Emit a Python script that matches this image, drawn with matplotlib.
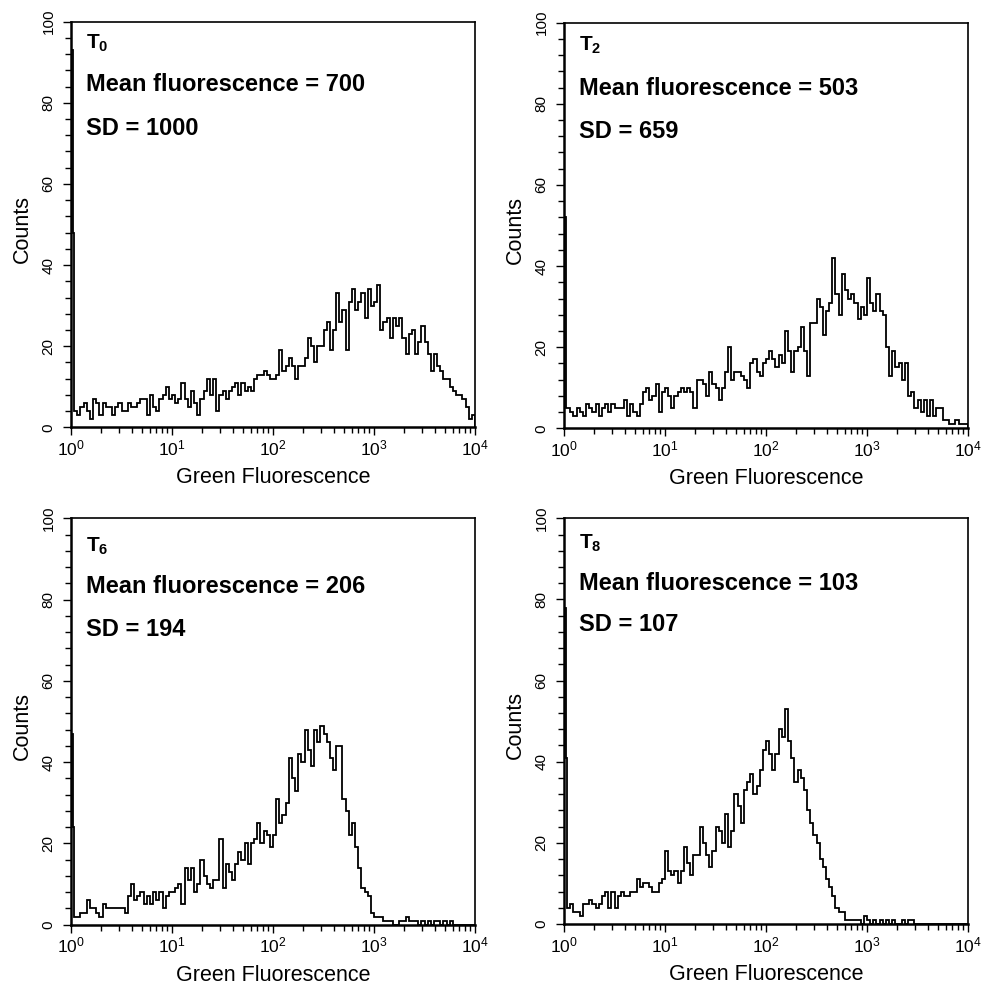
import numpy as np
import matplotlib
matplotlib.use('Agg')
import matplotlib.pyplot as plt
from matplotlib.ticker import MultipleLocator, LogLocator, NullFormatter

plt.rcParams['font.family'] = ['Liberation Sans', 'DejaVu Sans']
plt.rcParams['mathtext.default'] = 'regular'

# ---------------------------------------------------------------------------
# histogram data: two fine channels at the left edge, then 127 coarse bins
# (32 bins per decade, the first coarse bin replaced by the fine channels)
# ---------------------------------------------------------------------------
t0_first = [93, 48]
t0_counts = ([4, 3, 5, 6, 4, 2, 7, 6, 3, 6, 5, 5, 3, 5, 6, 4, 4, 6, 5, 5, 6, 7, 7, 3, 8, 5, 4, 7, 8, 10, 7] +
             [8, 6, 7, 11, 7, 5, 9, 6, 3, 7, 9, 12, 8, 12, 4, 8, 9, 7, 9, 10, 11, 8, 11, 9, 10, 9, 12, 13, 13, 14, 13, 12] +
             [12, 13, 19, 14, 15, 17, 15, 12, 15, 15, 17, 22, 20, 16, 20, 20, 24, 26, 19, 24, 33, 26, 29, 19, 31, 34, 29, 31, 33, 27, 34, 30] +
             [31, 35, 24, 26, 27, 22, 27, 25, 27, 22, 18, 23, 24, 18, 21, 25, 21, 18, 14, 18, 15, 14, 12, 12, 10, 9, 8, 8, 7, 5, 2, 3])

t2_first = [52, 5]
t2_counts = ([5, 4, 3, 5, 4, 3, 6, 5, 4, 6, 3, 5, 6, 4, 6, 5, 5, 5, 7, 3, 6, 4, 3, 6, 9, 10, 7, 8, 11, 4, 9] +
             [10, 8, 5, 8, 9, 10, 9, 10, 9, 5, 12, 12, 11, 8, 14, 11, 10, 7, 10, 14, 20, 12, 14, 14, 13, 12, 10, 16, 17, 14, 13, 16] +
             [17, 19, 17, 15, 18, 16, 24, 19, 14, 19, 20, 25, 19, 13, 26, 26, 32, 30, 23, 29, 31, 42, 33, 28, 38, 34, 32, 33, 31, 27, 30, 28] +
             [37, 31, 29, 33, 29, 28, 20, 13, 19, 15, 16, 12, 16, 8, 9, 5, 7, 4, 7, 3, 7, 3, 5, 5, 2, 2, 1, 1, 2, 1, 1, 1])

t6_first = [47, 24]
t6_counts = ([2, 2, 3, 3, 6, 4, 4, 3, 2, 5, 4, 4, 4, 4, 4, 4, 3, 7, 10, 6, 7, 8, 5, 7, 5, 8, 6, 8, 4, 7, 8] +
             [8, 9, 10, 5, 14, 11, 14, 8, 10, 16, 12, 10, 9, 11, 11, 21, 9, 15, 13, 11, 15, 18, 16, 20, 15, 20, 21, 25, 20, 23, 22, 19] +
             [22, 31, 25, 27, 30, 41, 36, 33, 42, 40, 48, 43, 39, 48, 45, 49, 47, 45, 41, 38, 44, 44, 31, 28, 22, 25, 19, 14, 9, 8, 7, 3] +
             [2, 2, 2, 1, 1, 1, 0, 0, 1, 1, 2, 1, 1, 1, 0, 1, 0, 1, 0, 1, 1, 0, 1, 0, 1, 0, 0, 0, 0, 0, 0, 0])

t8_first = [78, 41]
t8_counts = ([4, 5, 3, 3, 2, 5, 5, 6, 5, 4, 5, 7, 8, 4, 8, 4, 7, 8, 7, 7, 8, 8, 11, 9, 10, 10, 9, 8, 8, 10, 11] +
             [18, 13, 12, 13, 10, 13, 19, 15, 12, 17, 17, 24, 20, 17, 14, 18, 24, 23, 20, 27, 19, 23, 32, 29, 25, 33, 35, 37, 32, 34, 38, 43] +
             [45, 42, 38, 42, 48, 46, 53, 45, 41, 35, 38, 36, 33, 28, 25, 22, 20, 16, 14, 11, 9, 7, 4, 3, 3, 1, 1, 1, 1, 1, 0, 2] +
             [1, 0, 1, 0, 1, 0, 1, 0, 1, 0, 0, 1, 0, 1, 1, 0, 0, 0, 0, 0, 0, 0, 0, 0, 0, 0, 0, 0, 0, 0, 0, 0])

subscripts = ['0', '2', '6', '8']
means = [700, 503, 206, 103]
sds = [1000, 659, 194, 107]
x_ticks = [1, 10, 100, 1000, 10000]
x_ticklabels = [r'$10^{0}$', r'$10^{1}$', r'$10^{2}$', r'$10^{3}$', r'$10^{4}$']

panels = [(t0_first, t0_counts), (t2_first, t2_counts), (t6_first, t6_counts), (t8_first, t8_counts)]

# bin edges on the 4-decade log scale
fine = 10 ** (np.arange(0, 2) * 4 / 256)
coarse = 10 ** (np.arange(1, 129) * 4 / 128)
edges = np.concatenate([fine, coarse])

W, H = 988, 989
fig = plt.figure(figsize=(W / 100, H / 100), dpi=100)

# axes boxes in pixels: left, top, right, bottom
boxes = [(71, 21.7, 475, 427.3), (564, 22.7, 968, 428.3),
         (71, 518.3, 475, 924.7), (564, 518.3, 968, 924.0)]
# text baselines (px below the axes top): T, mean, SD
text_y = [(27, 69, 113), (28, 72, 115), (33, 75, 118), (30, 72, 113)]

for i, (first, counts) in enumerate(panels):
    l, t, r, b = boxes[i]
    ax = fig.add_axes([l / W, 1 - b / H, (r - l) / W, (b - t) / H])
    hgt = b - t
    ax.stairs(first + counts, edges, baseline=0, color='black', lw=1.3)

    ax.set_xscale('log')
    ax.set_xlim(1, 10000)
    ax.set_ylim(0, 100)
    ax.set_xticks(x_ticks)
    ax.set_xticklabels(x_ticklabels, fontsize=12.5)
    ax.xaxis.set_minor_locator(LogLocator(base=10, subs=np.arange(2, 10)))
    ax.xaxis.set_minor_formatter(NullFormatter())
    ax.set_yticks([0, 20, 40, 60, 80, 100])
    ax.yaxis.set_minor_locator(MultipleLocator(4))
    for lab in ax.get_yticklabels():
        lab.set_rotation(90)
        lab.set_va('center')
        lab.set_fontsize(11)

    ax.tick_params(which='both', direction='out', width=1.0, colors='black')
    ax.tick_params(axis='x', which='major', length=6, pad=2)
    ax.tick_params(axis='x', which='minor', length=4)
    ax.tick_params(axis='y', which='major', length=6, pad=5)
    ax.tick_params(axis='y', which='minor', length=4)
    for s in ax.spines.values():
        s.set_linewidth(1.2)
    ax.spines['left'].set_linewidth(1.8)
    ax.spines['bottom'].set_linewidth(1.8)

    ax.set_ylabel('Counts', fontsize=15.5)
    ax.yaxis.set_label_coords(-0.095, 0.49)
    ax.set_xlabel('Green Fluorescence', fontsize=15.5)
    ax.xaxis.set_label_coords(0.5, -0.098)

    ty, my, sy = text_y[i]
    tx = 15 / (r - l)
    ax.text(tx, 1 - ty / hgt, 'T$_{' + subscripts[i] + '}$', transform=ax.transAxes,
            fontsize=15, fontweight='bold', va='baseline', ha='left')
    ax.text(tx, 1 - my / hgt, f'Mean fluorescence = {means[i]}', transform=ax.transAxes,
            fontsize=17, fontweight='bold', va='baseline', ha='left')
    ax.text(tx, 1 - sy / hgt, f'SD = {sds[i]}', transform=ax.transAxes,
            fontsize=17, fontweight='bold', va='baseline', ha='left')

fig.savefig('out.png', dpi=100, facecolor='white')
